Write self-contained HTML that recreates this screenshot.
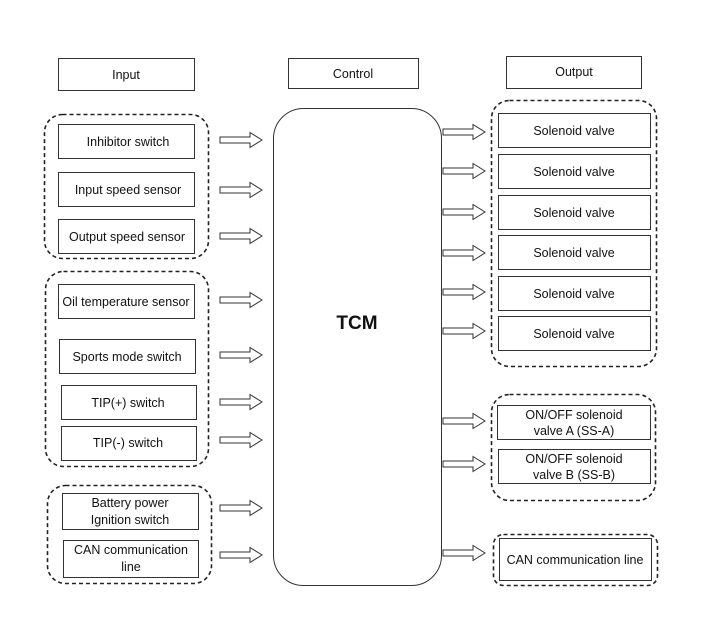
<!DOCTYPE html>
<html><head><meta charset="utf-8"><style>
html,body{margin:0;padding:0;background:#fff;}
svg{display:block;}
text{font-family:"Liberation Sans",Arial,sans-serif;font-size:12.5px;fill:#111;text-anchor:middle;}
</style></head><body>
<svg width="701" height="640" viewBox="0 0 701 640" xmlns="http://www.w3.org/2000/svg">
<defs>
<g id="arr"><path d="M0,-3 H30 V-7.5 L42,0 L30,7.5 V3 H0 Z" fill="#fff" stroke="#333" stroke-width="1"/></g>
</defs>
<g fill="#fff" stroke="#333" stroke-width="1">
<rect x="58.5" y="58.5" width="136" height="32"/>
<rect x="288.5" y="58.5" width="130" height="30"/>
<rect x="506.5" y="56.5" width="135" height="32"/>
<rect x="273.5" y="108.5" width="168" height="477" rx="30"/>
</g>
<g fill="none" stroke="#222" stroke-width="1.6" stroke-dasharray="4,3">
<rect x="44.5" y="114.5" width="164" height="144" rx="18"/>
<rect x="45.5" y="271.5" width="163" height="195" rx="18"/>
<rect x="47.5" y="485.5" width="164" height="98" rx="18"/>
<rect x="491.5" y="100.5" width="165" height="266" rx="18"/>
<rect x="491.5" y="394.5" width="164" height="106" rx="18"/>
<rect x="493.5" y="534.5" width="164" height="51" rx="10"/>
</g>
<g fill="#fff" stroke="#333" stroke-width="1">
<rect x="58.5" y="124.5" width="136" height="34"/>
<rect x="58.5" y="172.5" width="136" height="34"/>
<rect x="58.5" y="219.5" width="136" height="34"/>
<rect x="58.5" y="284.5" width="136" height="34"/>
<rect x="59.5" y="339.5" width="136" height="34"/>
<rect x="61.5" y="385.5" width="135" height="34"/>
<rect x="61.5" y="426.5" width="135" height="34"/>
<rect x="62.5" y="493.5" width="136" height="36"/>
<rect x="63.5" y="540.5" width="135" height="37"/>
<rect x="498.5" y="113.5" width="152" height="34"/>
<rect x="498.5" y="154.5" width="152" height="34"/>
<rect x="498.5" y="195.5" width="152" height="34"/>
<rect x="498.5" y="235.5" width="152" height="34"/>
<rect x="498.5" y="276.5" width="152" height="34"/>
<rect x="498.5" y="316.5" width="152" height="34"/>
<rect x="497.5" y="405.5" width="153" height="34"/>
<rect x="498.5" y="449.5" width="152" height="34"/>
<rect x="499.5" y="538.5" width="152" height="42"/>
</g>
<g>
<use href="#arr" x="220" y="140"/><use href="#arr" x="220" y="190"/><use href="#arr" x="220" y="236"/>
<use href="#arr" x="220" y="300"/><use href="#arr" x="220" y="355"/><use href="#arr" x="220" y="402"/>
<use href="#arr" x="220" y="440"/><use href="#arr" x="220" y="508"/><use href="#arr" x="220" y="555"/>
<use href="#arr" x="443" y="132"/><use href="#arr" x="443" y="171"/><use href="#arr" x="443" y="212"/>
<use href="#arr" x="443" y="253"/><use href="#arr" x="443" y="292"/><use href="#arr" x="443" y="331"/>
<use href="#arr" x="443" y="421"/><use href="#arr" x="443" y="464"/><use href="#arr" x="443" y="553"/>
</g>
<text x="126" y="79">Input</text>
<text x="353" y="78">Control</text>
<text x="574" y="76">Output</text>
<text x="357" y="329" style="font-size:19px;font-weight:bold">TCM</text>
<text x="128" y="146">Inhibitor switch</text>
<text x="128" y="194">Input speed sensor</text>
<text x="127" y="241">Output speed sensor</text>
<text x="126" y="306">Oil temperature sensor</text>
<text x="127" y="361">Sports mode switch</text>
<text x="128" y="407">TIP(+) switch</text>
<text x="128" y="447">TIP(-) switch</text>
<text x="130" y="507">Battery power</text>
<text x="130" y="524">Ignition switch</text>
<text x="131" y="554">CAN communication</text>
<text x="131" y="571">line</text>
<text x="574" y="135">Solenoid valve</text>
<text x="574" y="176">Solenoid valve</text>
<text x="574" y="217">Solenoid valve</text>
<text x="574" y="257">Solenoid valve</text>
<text x="574" y="298">Solenoid valve</text>
<text x="574" y="338">Solenoid valve</text>
<text x="574" y="419">ON/OFF solenoid</text>
<text x="574" y="435">valve A (SS-A)</text>
<text x="574" y="463">ON/OFF solenoid</text>
<text x="574" y="479">valve B (SS-B)</text>
<text x="575" y="564">CAN communication line</text>
</svg>
</body></html>
